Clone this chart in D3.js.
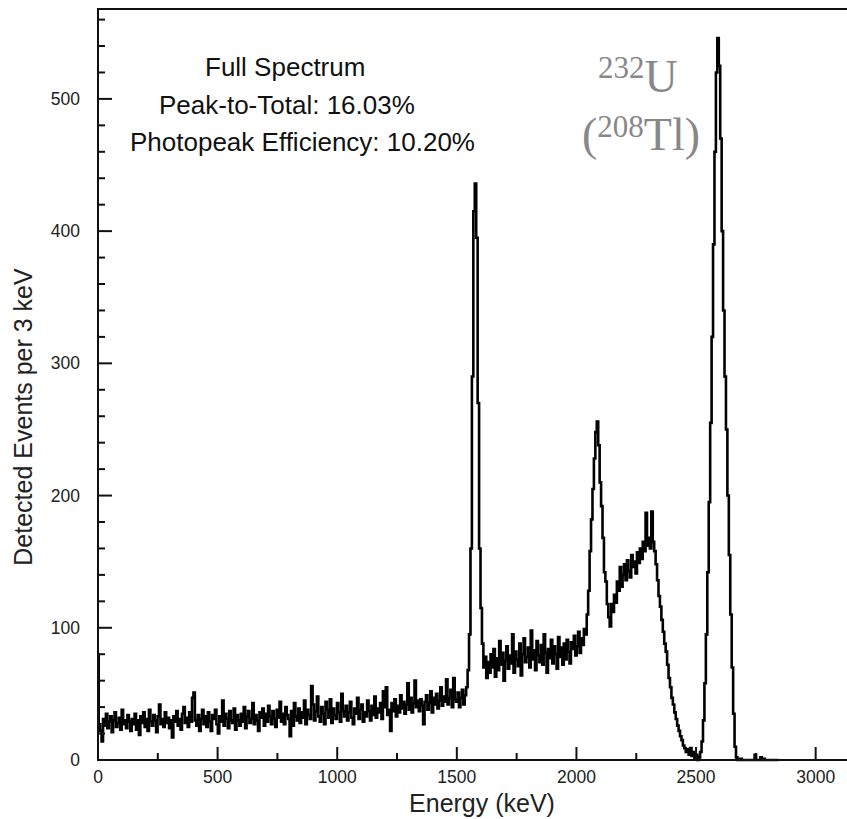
<html>
<head>
  <title>Full Spectrum</title>
  <script src='https://d3js.org/d3.v7.min.js'></script>
  <style>
    body { margin: 0; background: white; }
    text { font-family: 'Liberation Sans', Arial, sans-serif; }
  </style>
</head>
<body>
<script>

// counts per bin, bin = 6 keV
var bin = 6;

// 0 - 1494 keV, flat continuum
var countsLow = [
  80, 27, 22, 14, 31, 26, 35, 24, 29, 33, 21, 30, 36, 25, 28, 32, 23, 38, 27, 30, 24, 34, 29, 22, 31,
  27, 35, 23, 30, 19, 33, 28, 36, 25, 31, 22, 38, 29, 26, 34, 30, 21, 33, 42, 27, 31, 25, 36, 28, 32,
  24, 30, 17, 33, 29, 37, 26, 31, 23, 35, 40, 28, 32, 25, 36, 29, 47, 51, 30, 26, 34, 22, 31, 38, 27,
  33, 25, 36, 29, 22, 34, 31, 38, 27, 20, 33, 29, 45, 26, 35, 31, 24, 37, 30, 28, 39, 23, 34, 30, 26,
  35, 29, 40, 24, 33, 37, 28, 31, 43, 27, 34, 30, 22, 36, 32, 39, 26, 35, 29, 41, 33, 27, 37, 31, 25,
  38, 32, 44, 29, 35, 27, 40, 34, 31, 18, 37, 26, 43, 33, 30, 39, 28, 36, 32, 45, 27, 38, 34, 31, 56,
  42, 30, 37, 48, 33, 29, 40, 35, 27, 44, 38, 32, 46, 28, 39, 34, 31, 43, 36, 29, 50, 37, 33, 41, 30,
  36, 44, 32, 27, 39, 35, 47, 31, 38, 42, 29, 36, 33, 45, 37, 30, 41, 34, 48, 32, 39, 36, 43, 31, 52,
  40, 55, 34, 38, 22, 43, 37, 46, 33, 41, 36, 49, 39, 44, 35, 42, 58, 38, 47, 36, 43, 60, 40, 45, 37,
  46, 41, 27, 44, 49, 38, 43, 52, 36, 47, 42, 50, 39, 45, 55, 41, 48, 44, 61, 42, 47, 53, 40, 62, 46
];

// 1500 - 1644 keV, double escape peak
var countsPeak1 = [
  44, 51, 40, 47, 53, 42, 49, 55, 68, 95, 160, 290, 415, 436, 395, 270, 160, 115, 88, 70, 78, 62, 74, 66, 80
];

// 1650 - 2394 keV, single escape peak and compton edge
var countsMid = [
  70, 84, 63, 77, 68, 90, 72, 81, 60, 75, 86, 69, 79, 73, 95, 66, 82, 76, 71, 88, 64, 80, 92, 74, 78,
  85, 70, 98, 76, 83, 68, 90, 79, 74, 87, 72, 95, 81, 66, 84, 77, 91, 73, 86, 80, 69, 93, 78, 85, 72,
  88, 76, 91, 82, 73, 89, 84, 94, 79, 86, 97, 81, 92, 87, 99, 95, 110, 128, 158, 182, 205, 228, 248, 256, 238,
  210, 192, 168, 142, 135, 118, 108, 101, 118, 112, 125, 119, 135, 128, 146, 131, 140, 148, 136, 151, 143, 138, 155, 146, 150,
  141, 157, 149, 160, 152, 165, 158, 187, 162, 168, 160, 188, 165, 158, 148, 136, 124, 116, 106, 97, 88, 82, 72, 62, 55
];

// 2400 - 2844 keV, full energy peak
var countsPeak2 = [
  47, 42, 36, 31, 26, 22, 18, 15, 11, 9, 6, 8, 4, 9, 3, 6, 1, 4, 0, 2, 6, 14, 30, 58, 95,
  142, 195, 255, 320, 390, 460, 520, 546, 525, 470, 400, 340, 290, 250, 200, 155, 110, 70, 35, 10, 2, 0, 0, 1, 0,
  0, 0, 0, 0, 0, 0, 0, 0, 4, 0, 0, 0, 2, 0, 1, 0, 0, 0, 0, 0, 0, 0, 0, 0, 0
];

var xMajor = [0, 500, 1000, 1500, 2000, 2500, 3000],
    xMinor = [250, 750, 1250, 1750, 2250, 2750],
    yMajor = [0, 100, 200, 300, 400, 500],
    yMinor = [20, 40, 60, 80, 120, 140, 160, 180, 220, 240, 260, 280, 320, 340, 360, 380, 420, 440, 460, 480, 520, 540, 560];

var notes = ["Full Spectrum", "Peak-to-Total: 16.03%", "Photopeak Efficiency: 10.20%"];

var width = 847,
    height = 819,
    plotLeft = 98,
    plotTop = 9,
    plotBottom = 760;

// left edge of each note line (they are not quite centred in the original)
var noteX = [205, 159, 130];

var counts = countsLow.concat(countsPeak1, countsMid, countsPeak2);
var spectrum = counts.map(function(c, i) { return {e: i * bin, c: c}; });

var x = d3.scaleLinear().domain([0, 3131]).range([plotLeft, width]);
var y = d3.scaleLinear().domain([0, 568]).range([plotBottom, plotTop]);

var svg = d3.select('body')
  .append('svg')
  .attr('width', width)
  .attr('height', height);

// spectrum line
var line = d3.line()
  .x(function(d) { return x(d.e); })
  .y(function(d) { return y(d.c); })
  .curve(d3.curveStep);

svg.append('path')
  .datum(spectrum)
  .attr('d', line)
  .attr('fill', 'none')
  .attr('stroke', 'black')
  .attr('stroke-width', 2.6);

// frame: left, bottom and top
svg.append('path')
  .attr('d', 'M' + width + ',' + y(568) + 'H' + x(0) + 'V' + y(0) + 'H' + width)
  .attr('fill', 'none')
  .attr('stroke', '#111')
  .attr('stroke-width', 2);

// ticks point inward
svg.selectAll('line.xmaj')
  .data(xMajor)
  .enter()
  .append('line')
  .attr('class', 'xmaj')
  .attr('x1', function(d) { return x(d); })
  .attr('x2', function(d) { return x(d); })
  .attr('y1', plotBottom)
  .attr('y2', plotBottom - 13)
  .attr('stroke', '#111')
  .attr('stroke-width', 2);

svg.selectAll('line.xmin')
  .data(xMinor)
  .enter()
  .append('line')
  .attr('class', 'xmin')
  .attr('x1', function(d) { return x(d); })
  .attr('x2', function(d) { return x(d); })
  .attr('y1', plotBottom)
  .attr('y2', plotBottom - 7)
  .attr('stroke', '#111')
  .attr('stroke-width', 2);

svg.selectAll('line.ymaj')
  .data(yMajor)
  .enter()
  .append('line')
  .attr('class', 'ymaj')
  .attr('x1', plotLeft)
  .attr('x2', plotLeft + 14)
  .attr('y1', function(d) { return y(d); })
  .attr('y2', function(d) { return y(d); })
  .attr('stroke', '#111')
  .attr('stroke-width', 2);

svg.selectAll('line.ymin')
  .data(yMinor)
  .enter()
  .append('line')
  .attr('class', 'ymin')
  .attr('x1', plotLeft)
  .attr('x2', plotLeft + 7)
  .attr('y1', function(d) { return y(d); })
  .attr('y2', function(d) { return y(d); })
  .attr('stroke', '#111')
  .attr('stroke-width', 2);

// tick labels
svg.selectAll('text.xlab')
  .data(xMajor)
  .enter()
  .append('text')
  .attr('class', 'xlab')
  .attr('x', function(d) { return x(d); })
  .attr('y', 783)
  .attr('text-anchor', 'middle')
  .attr('font-size', 17.5)
  .attr('fill', '#222')
  .text(function(d) { return d; });

svg.selectAll('text.ylab')
  .data(yMajor)
  .enter()
  .append('text')
  .attr('class', 'ylab')
  .attr('x', 80)
  .attr('y', function(d) { return y(d) + 6; })
  .attr('text-anchor', 'end')
  .attr('font-size', 17.5)
  .attr('fill', '#222')
  .text(function(d) { return d; });

// axis titles
svg.append('text')
  .attr('x', 482)
  .attr('y', 812)
  .attr('text-anchor', 'middle')
  .attr('font-size', 25)
  .attr('fill', '#222')
  .text('Energy (keV)');

svg.append('text')
  .attr('transform', 'translate(32,417)rotate(-90)')
  .attr('text-anchor', 'middle')
  .attr('font-size', 25)
  .attr('fill', '#222')
  .text('Detected Events per 3 keV');

// notes at top left
svg.selectAll('text.note')
  .data(notes)
  .enter()
  .append('text')
  .attr('class', 'note')
  .attr('x', function(d, i) { return noteX[i]; })
  .attr('y', function(d, i) { return 76 + i * 37.5; })
  .attr('font-size', 26)
  .attr('fill', '#111')
  .text(function(d) { return d; });

// source label, grey serif with superscripts
var lab1 = svg.append('text')
  .attr('x', 598)
  .attr('y', 92)
  .attr('fill', '#888')
  .style('font-family', "'Liberation Serif', 'Times New Roman', serif");
lab1.append('tspan').attr('font-size', 31).attr('dy', -14).text('232');
lab1.append('tspan').attr('font-size', 46).attr('dy', 14).text('U');

var lab2 = svg.append('text')
  .attr('x', 582)
  .attr('y', 150)
  .attr('fill', '#888')
  .style('font-family', "'Liberation Serif', 'Times New Roman', serif");
lab2.append('tspan').attr('font-size', 46).text('(');
lab2.append('tspan').attr('font-size', 31).attr('dy', -13).text('208');
lab2.append('tspan').attr('font-size', 46).attr('dy', 13).text('Tl)');

</script>
</body>
</html>
